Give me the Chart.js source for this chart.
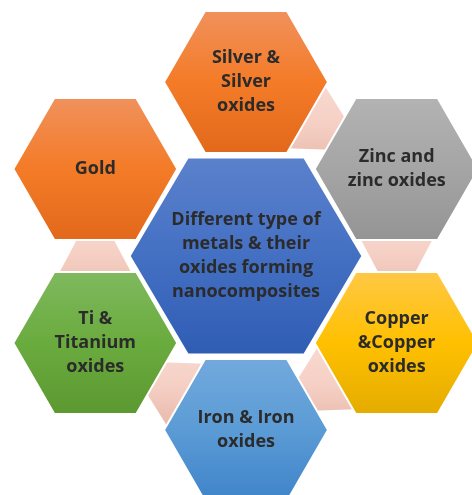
<!DOCTYPE html>
<html lang="en">
<head>
<meta charset="UTF-8">
<title>Different type of metals &amp; their oxides forming nanocomposites</title>
<script src="https://cdn.jsdelivr.net/npm/chart.js"></script>
<style>
    html, body { margin: 0; padding: 0; background: #fff; }
    canvas { display: block; }
</style>
</head>
<body>
<canvas id="hexChart" width="472" height="495"></canvas>
<script>
// centre hexagon text
const centreLabel = ['Different type of', 'metals & their', 'oxides forming', 'nanocomposites'];
// ring hexagons, clockwise from the top
const ringLabels = [
    ['Silver &', 'Silver', 'oxides'],
    ['Zinc and', 'zinc oxides'],
    ['Copper', '&Copper', 'oxides'],
    ['Iron & Iron', 'oxides'],
    ['Ti &', 'Titanium', 'oxides'],
    ['Gold']
];
// pink connectors between ring hexagons: [narrow end, wide end]
const links = [[5, 4], [4, 3], [3, 2], [2, 1], [1, 0]];

// layout + colours (kept apart from the data above)
const ringSlots = [90, 30, -30, -90, -150, 150];   // degrees round the centre
const RING_DIST = 174;
const OUTER = { rx: 82, ry: 71 };   // half width, half height
const INNER = { rx: 117, ry: 99 };
const centreColors = ['#5b81cc', '#4470c3', '#2f5db4'];
const ringColors = [
    ['#f0915c', '#f47b27', '#e2691b'],
    ['#b3b3b3', '#a5a5a5', '#949494'],
    ['#ffc845', '#ffc000', '#e4ac00'],
    ['#72a9dd', '#5b9bd5', '#3f84ca'],
    ['#7fb95e', '#6aab3e', '#5c9931'],
    ['#f0915c', '#f47b27', '#e2691b']
];
const linkColors = ['#f8d9d0', '#f5cfc4', '#e8b9ab'];

function hexPoints(cx, cy, s) {
    const pts = [];
    for (let k = 0; k <= 6; k++) {
        const a = Math.PI / 3 * (k % 6);
        pts.push({ x: cx + s.rx * Math.cos(a), y: cy + s.ry * Math.sin(a) / Math.sin(Math.PI / 3) });
    }
    return pts;
}

// triangle from a point inside hexagon a, opening towards the centre of b
function linkPoints(a, b) {
    const dx = b.cx - a.cx, dy = b.cy - a.cy;
    const len = Math.hypot(dx, dy);
    const ux = dx / len, uy = dy / len;
    const ax = a.cx + ux * 36, ay = a.cy + uy * 36;
    const w = (len - 36) * Math.tan(28 * Math.PI / 180);
    return [
        { x: ax, y: ay },
        { x: b.cx - uy * w, y: b.cy + ux * w },
        { x: b.cx + uy * w, y: b.cy - ux * w },
        { x: ax, y: ay }
    ];
}

function vGradient(stops, yTop, yBottom) {
    return function (context) {
        const chart = context.chart;
        const y = chart.scales && chart.scales.y;
        if (!y || !chart.chartArea) return stops[1];
        const g = chart.ctx.createLinearGradient(0, y.getPixelForValue(yTop), 0, y.getPixelForValue(yBottom));
        stops.forEach((c, i) => g.addColorStop(i / (stops.length - 1), c));
        return g;
    };
}

const centre = { cx: 0, cy: 0, lines: centreLabel };
const ring = ringLabels.map((lines, i) => {
    const a = ringSlots[i] * Math.PI / 180;
    return { cx: RING_DIST * Math.cos(a), cy: RING_DIST * Math.sin(a), lines: lines };
});
const hexes = [centre].concat(ring);

// dataset 0 is painted last (on top), so: centre, ring, then connectors
const datasets = [];
datasets.push({
    data: hexPoints(0, 0, INNER),
    backgroundColor: vGradient(centreColors, INNER.ry, -INNER.ry),
    borderColor: '#ffffff',
    borderWidth: 3
});
ring.forEach((h, i) => {
    datasets.push({
        data: hexPoints(h.cx, h.cy, OUTER),
        backgroundColor: vGradient(ringColors[i], h.cy + OUTER.ry, h.cy - OUTER.ry),
        borderColor: '#ffffff',
        borderWidth: 2
    });
});
links.forEach(([from, to]) => {
    const a = ring[from], b = ring[to];
    const midY = (a.cy + b.cy) / 2;
    datasets.push({
        data: linkPoints(a, b),
        backgroundColor: vGradient(linkColors, midY + 40, midY - 40),
        borderWidth: 0
    });
});
datasets.forEach(d => {
    d.showLine = true;
    d.fill = 'shape';
    d.pointRadius = 0;
    d.tension = 0;
    d.borderJoinStyle = 'miter';
});

const labelPlugin = {
    id: 'hexLabels',
    afterDatasetsDraw(chart) {
        const { ctx, scales: { x, y } } = chart;
        ctx.save();
        ctx.font = 'bold 18px "Open Sans", Lato, sans-serif';
        ctx.fillStyle = '#2b2b2b';
        ctx.textAlign = 'center';
        ctx.textBaseline = 'middle';
        hexes.forEach(h => {
            const px = x.getPixelForValue(h.cx);
            const py = y.getPixelForValue(h.cy);
            const n = h.lines.length;
            h.lines.forEach((t, i) => ctx.fillText(t, px, py + (i - (n - 1) / 2) * 24));
        });
        ctx.restore();
    }
};

new Chart(document.getElementById('hexChart').getContext('2d'), {
    type: 'scatter',
    data: { datasets: datasets },
    options: {
        responsive: false,
        animation: false,
        events: [],
        layout: { padding: 0 },
        plugins: {
            legend: { display: false },
            tooltip: { enabled: false }
        },
        scales: {
            x: { type: 'linear', min: -246, max: 226, display: false },
            y: { type: 'linear', min: -239, max: 256, display: false }
        }
    },
    plugins: [labelPlugin]
});
</script>
</body>
</html>
